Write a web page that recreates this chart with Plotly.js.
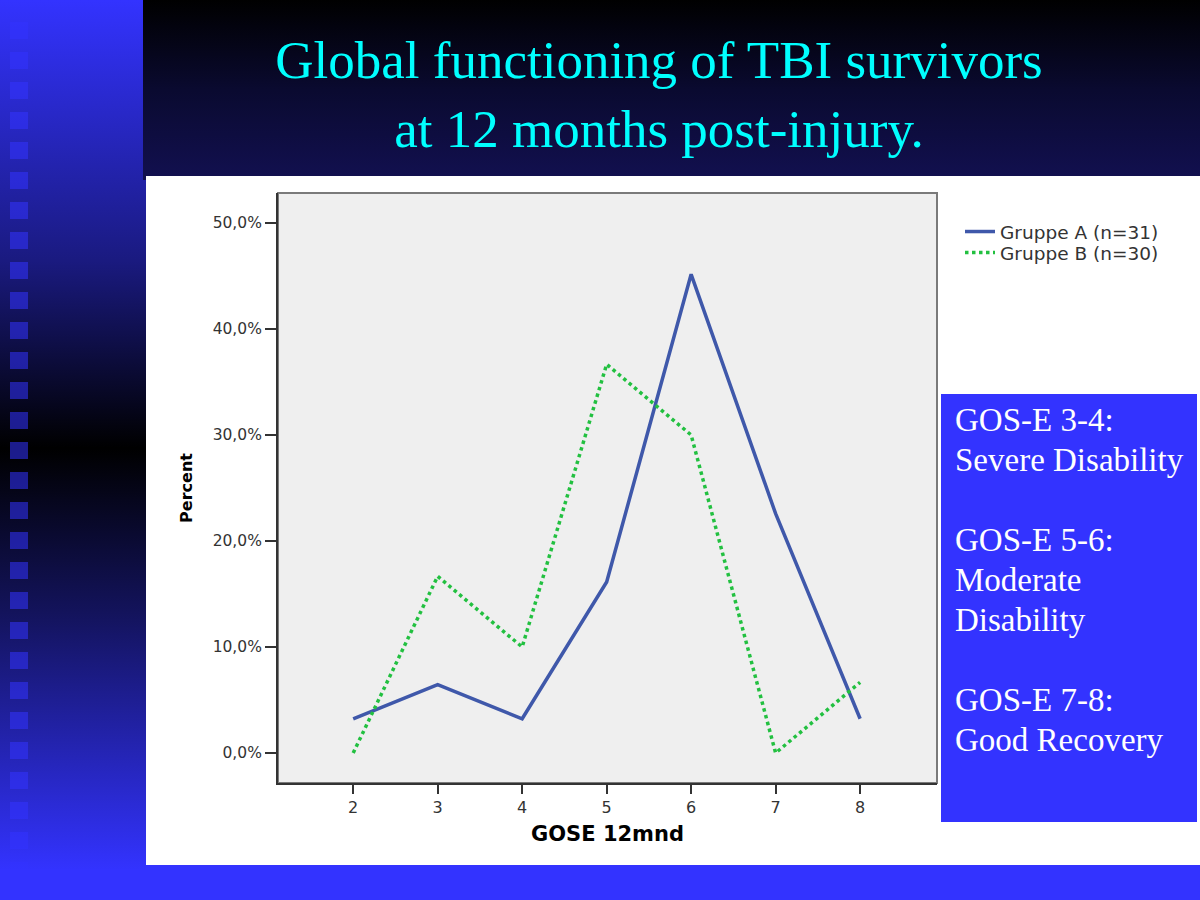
<!DOCTYPE html>
<html>
<head>
<meta charset="utf-8">
<script src="https://cdn.plot.ly/plotly-3.0.1.min.js"></script>
<style>
  html, body { margin:0; padding:0; width:1200px; height:900px; overflow:hidden; background:#3333ff; }
  #bgLeft { position:absolute; left:0; top:0; width:146px; height:900px;
    background:linear-gradient(to bottom, #3333ff 0px, #1a1a80 260px, #000000 448px, #141460 620px, #3333ff 870px, #3333ff 900px); }
  #bgTitle { position:absolute; left:143px; top:0; width:1057px; height:180px;
    background:linear-gradient(to bottom, #000000 0px, #0a0a30 90px, #121050 180px); }
  #chart { position:absolute; left:0; top:0; width:1200px; height:900px; }
</style>
</head>
<body>
<div id="bgLeft"></div>
<div id="bgTitle"></div>
<div id="chart"></div>
<script>
// ---- data ----
const gose = [2, 3, 4, 5, 6, 7, 8];
const gruppeA = [3.23, 6.45, 3.23, 16.13, 45.16, 22.58, 3.23];
const gruppeB = [0.0, 16.67, 10.0, 36.67, 30.0, 0.0, 6.67];
const seriesNames = ['Gruppe A (n=31)', 'Gruppe B (n=30)'];
const yTickVals = [0, 10, 20, 30, 40, 50];
const yTickLabels = ['0,0%', '10,0%', '20,0%', '30,0%', '40,0%', '50,0%'];
const titleLines = ['Global functioning of TBI survivors', 'at 12 months post-injury.'];
const boxLines = ['GOS-E 3-4:', 'Severe Disability', '', 'GOS-E 5-6:', 'Moderate', 'Disability', '', 'GOS-E 7-8:', 'Good Recovery'];
const xTitle = 'GOSE 12mnd';
const yTitle = 'Percent';

// ---- layout helpers (pixel -> paper) ----
const L = 278, R = 937, T = 193, B = 783;
const W = R - L, H = B - T;
const px = x => (x - L) / W;
const py = y => (B - y) / H;

const shapes = [];
// white slide panel
shapes.push({type:'rect', xref:'paper', yref:'paper', x0:px(146), x1:px(1200), y0:py(865), y1:py(176),
  fillcolor:'#ffffff', line:{width:0}, layer:'below'});
// plot background
shapes.push({type:'rect', xref:'paper', yref:'paper', x0:0, x1:1, y0:0, y1:1,
  fillcolor:'#efefef', line:{color:'#7a7a7a', width:2}, layer:'below'});
// blue info box
shapes.push({type:'rect', xref:'paper', yref:'paper', x0:px(941), x1:px(1197), y0:py(822), y1:py(394),
  fillcolor:'#3333ff', line:{width:0}, layer:'below'});
// decorative squares on left stripe
for (let k = 0; k < 29; k++) {
  const y0 = 22 + 30 * k;
  shapes.push({type:'rect', xref:'paper', yref:'paper', x0:px(10), x1:px(28), y0:py(y0 + 17), y1:py(y0),
    fillcolor:'rgba(51,51,255,0.55)', line:{width:0}, layer:'below'});
}

const annotations = boxLines.map((t, i) => ({
  xref:'paper', yref:'paper', x:px(953), y:py(420 + 40 * i), xanchor:'left', yanchor:'middle',
  text:t, showarrow:false, font:{family:'"Liberation Serif", "Times New Roman", serif', size:33, color:'#ffffff'}
}));

const traces = [
  {x:gose, y:gruppeA, type:'scatter', mode:'lines', name:seriesNames[0], legend:'legend',
   line:{color:'#3f58aa', width:3.5}},
  {x:gose, y:gruppeB, type:'scatter', mode:'lines', name:seriesNames[1], legend:'legend2',
   line:{color:'#22c040', width:3.5, dash:'dot'}}
];

const sans = '"DejaVu Sans", Verdana, sans-serif';
const legendFont = {family:sans, size:18.5, color:'#333333'};

const layout = {
  width:1200, height:900,
  margin:{l:L, r:1200 - R, t:T, b:900 - B, pad:0},
  paper_bgcolor:'rgba(0,0,0,0)',
  plot_bgcolor:'#efefef',
  title:{
    text:titleLines.join('<br>'),
    font:{family:'"Liberation Serif", "Times New Roman", serif', size:53, color:'#00ffff'},
    xref:'container', x:659 / 1200, xanchor:'center',
    yref:'container', y:1 - 78 / 900, yanchor:'top'
  },
  xaxis:{
    range:[1.11, 8.91], tickvals:gose, ticks:'outside', ticklen:9, tickwidth:2, tickcolor:'#333333',
    showline:true, linecolor:'#333333', linewidth:2, showgrid:false, zeroline:false,
    tickfont:{family:sans, size:16, color:'#333333'}, fixedrange:true,
    title:{text:xTitle, standoff:10, font:{family:sans, size:21, color:'#000000', weight:'bold'}}
  },
  yaxis:{
    range:[-2.83, 52.83], tickvals:yTickVals, ticktext:yTickLabels, ticks:'outside', ticklen:11,
    tickwidth:2, tickcolor:'#333333', showline:true, linecolor:'#333333', linewidth:2,
    showgrid:false, zeroline:false, tickfont:{family:sans, size:15.5, color:'#333333'}, fixedrange:true,
    title:{text:yTitle, standoff:16, font:{family:sans, size:16, color:'#000000', weight:'bold'}}
  },
  legend:{
    x:px(960), y:py(213), xanchor:'left', yanchor:'top', bgcolor:'rgba(0,0,0,0)',
    font:legendFont, itemwidth:30
  },
  legend2:{
    x:px(960), y:py(234), xanchor:'left', yanchor:'top', bgcolor:'rgba(0,0,0,0)',
    font:legendFont, itemwidth:30
  },
  showlegend:true,
  shapes:shapes,
  annotations:annotations
};

Plotly.newPlot('chart', traces, layout, {displayModeBar:false, staticPlot:true});
</script>
</body>
</html>
